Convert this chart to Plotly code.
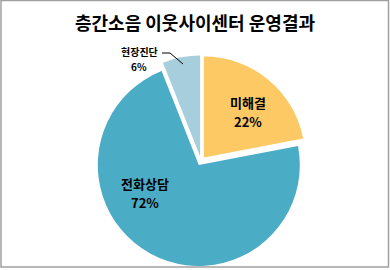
import plotly.graph_objects as go

# data
categories = ["미해결", "전화상담", "현장진단"]
values = [22, 72, 6]
colors = ["#FDC965", "#4BACC6", "#A6CEDC"]
title_text = "층간소음 이웃사이센터 운영결과"

W, H = 390, 270
FONT = "Noto Sans CJK KR"

def px(x):
    return x / W

def py(y):
    return 1 - y / H

# pie geometry (pixels)
cx, cy, r, pull = 201, 161, 101, 0.045
half = r * (1 + pull)

fig = go.Figure(go.Pie(
    labels=categories,
    values=values,
    sort=False,
    direction="clockwise",
    rotation=0,
    pull=[pull] * len(values),
    marker=dict(colors=colors, line=dict(width=0)),
    textinfo="none",
    hoverinfo="label+percent",
    showlegend=False,
    domain=dict(x=[px(cx - half), px(cx + half)], y=[py(cy + half), py(cy - half)]),
))

# labels from data: (x, y of name line, y of percent line, font size)
label_pos = [(248, 102, 121, 13), (145, 183, 202, 13), (139, 51, 66, 10)]
for (lx, ly1, ly2, fs), cat, v in zip(label_pos, categories, values):
    for ly, txt in ((ly1, cat), (ly2, f"{v}%")):
        fig.add_annotation(
            x=px(lx), y=py(ly), xref="paper", yref="paper",
            text=f"<b>{txt}</b>", showarrow=False,
            font=dict(family=FONT, size=fs, color="#000000"),
            xanchor="center", yanchor="middle", align="center",
            borderpad=0,
        )

# leader line for small slice
fig.add_shape(
    type="path", xref="paper", yref="paper",
    path=f"M {px(162)},{py(53)} L {px(170)},{py(53)} L {px(183)},{py(64)}",
    line=dict(color="#000000", width=1),
)

# chart frame
fig.add_shape(
    type="rect", xref="paper", yref="paper",
    x0=px(1), x1=px(388.5), y0=py(267), y1=py(0.5),
    line=dict(color="#A0A0A0", width=1.5),
)

fig.update_layout(
    width=W, height=H,
    margin=dict(l=0, r=0, t=0, b=0),
    paper_bgcolor="#FFFFFF",
    plot_bgcolor="#FFFFFF",
    title=dict(
        text=f"<b>{title_text}</b>", x=0.5, xanchor="center",
        y=py(24), yanchor="middle", yref="container",
        font=dict(family=FONT, size=18, color="#000000"),
    ),
)

fig.write_html("out.html")
